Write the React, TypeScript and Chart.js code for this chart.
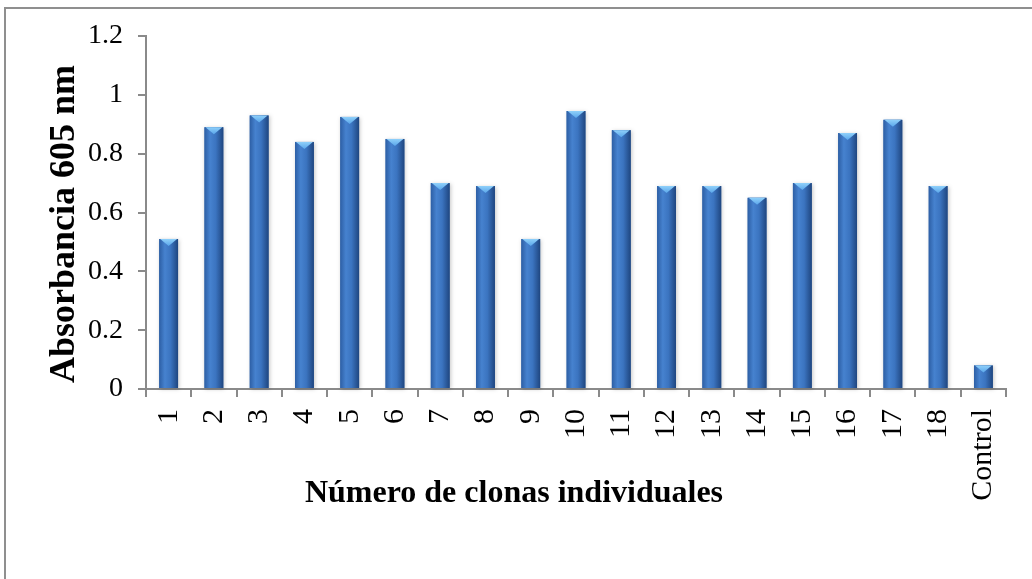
import React, { useEffect, useRef } from "react";
import { Chart, registerables } from "chart.js";

Chart.register(...registerables);

const categories = ["1", "2", "3", "4", "5", "6", "7", "8", "9", "10", "11", "12", "13", "14", "15", "16", "17", "18", "Control"];
const absorbance = [0.51, 0.89, 0.93, 0.84, 0.925, 0.85, 0.70, 0.69, 0.51, 0.945, 0.88, 0.69, 0.69, 0.65, 0.70, 0.87, 0.915, 0.69, 0.08];
const yTickLabels = ["0", "0.2", "0.4", "0.6", "0.8", "1", "1.2"];
const yTitle = "Absorbancia 605 nm";
const xTitle = "Número de clonas individuales";
const yMin = 0;
const yMax = 1.2;
const yStep = 0.2;

const FONT = "'Liberation Serif', 'Times New Roman', serif";
const AXIS = "#8a8a8a";

const barStyle = {
  id: "barStyle",
  afterDatasetsDraw(chart: any) {
    const ctx = chart.ctx as CanvasRenderingContext2D;
    const meta = chart.getDatasetMeta(0);
    meta.data.forEach((bar: any) => {
      const { x, y, base, width } = bar.getProps(["x", "y", "base", "width"], true);
      const l = x - width / 2;
      const r = x + width / 2;
      const h = base - y;
      ctx.save();
      ctx.shadowColor = "rgba(0,0,0,0.22)";
      ctx.shadowBlur = 4;
      ctx.shadowOffsetX = 1;
      ctx.shadowOffsetY = 1;
      const g = ctx.createLinearGradient(l, 0, r, 0);
      g.addColorStop(0, "#2d5fa5");
      g.addColorStop(0.3, "#4682cf");
      g.addColorStop(0.6, "#3b74c0");
      g.addColorStop(1, "#1f4680");
      ctx.fillStyle = g;
      ctx.fillRect(l, y, width, h);
      ctx.restore();
      const th = Math.min(7, h);
      ctx.save();
      const tg = ctx.createLinearGradient(0, y, 0, y + th);
      tg.addColorStop(0, "#8fd0fa");
      tg.addColorStop(1, "#5aa6ea");
      ctx.beginPath();
      ctx.moveTo(l + 1, y);
      ctx.lineTo(r - 1, y);
      ctx.lineTo(x, y + th);
      ctx.closePath();
      ctx.fillStyle = tg;
      ctx.fill();
      ctx.restore();
    });
  },
};

const axisTitles = {
  id: "axisTitles",
  afterDraw(chart: any) {
    const ctx = chart.ctx as CanvasRenderingContext2D;
    ctx.save();
    ctx.fillStyle = "#000";
    ctx.textBaseline = "alphabetic";
    ctx.textAlign = "center";
    ctx.font = `bold 32px ${FONT}`;
    ctx.fillText(xTitle, chart.width / 2 - 2, 502);
    ctx.translate(74, 224);
    ctx.rotate(-Math.PI / 2);
    ctx.font = `bold 36px ${FONT}`;
    ctx.fillText(yTitle, 0, 0);
    ctx.restore();
  },
};

export default function App() {
  const ref = useRef<HTMLCanvasElement | null>(null);

  useEffect(() => {
    if (!ref.current) return;
    const chart = new Chart(ref.current, {
      type: "bar",
      data: {
        labels: categories,
        datasets: [
          {
            data: absorbance,
            backgroundColor: "#3a74bf",
            borderWidth: 0,
            categoryPercentage: 0.8,
            barPercentage: 0.52,
          },
        ],
      },
      options: {
        responsive: false,
        animation: false,
        devicePixelRatio: 1,
        layout: { padding: { top: 36, right: 23, left: 0, bottom: 0 } },
        plugins: {
          legend: { display: false },
          tooltip: { enabled: false },
          title: { display: false },
        },
        scales: {
          x: {
            afterFit: (s: any) => {
              s.height = 190;
            },
            border: { color: AXIS, width: 2 },
            grid: { drawOnChartArea: false, drawTicks: true, tickLength: 8, color: AXIS, lineWidth: 2 },
            ticks: {
              color: "#000",
              font: { family: FONT, size: 30 },
              minRotation: 90,
              maxRotation: 90,
              autoSkip: false,
              padding: 12,
            },
          },
          y: {
            min: yMin,
            max: yMax,
            afterFit: (s: any) => {
              s.width = 146;
            },
            border: { color: AXIS, width: 2 },
            grid: { drawOnChartArea: false, drawTicks: true, tickLength: 8, color: AXIS, lineWidth: 2 },
            ticks: {
              stepSize: yStep,
              color: "#000",
              font: { family: FONT, size: 28 },
              padding: 15,
              callback: (_v: any, i: number) => yTickLabels[i],
            },
          },
        },
      },
      plugins: [barStyle, axisTitles],
    });
    return () => chart.destroy();
  }, []);

  return (
    <div style={{ position: "fixed", left: 0, top: 0, width: 1032, height: 579, background: "#fff", overflow: "hidden" }}>
      <div
        style={{
          position: "absolute",
          left: 4,
          top: 7,
          width: 1100,
          height: 700,
          borderLeft: "2px solid #8f8f8f",
          borderTop: "2px solid #8f8f8f",
        }}
      />
      <canvas ref={ref} width={1032} height={579} style={{ position: "absolute", left: 0, top: 0, width: 1032, height: 579 }} />
    </div>
  );
}
